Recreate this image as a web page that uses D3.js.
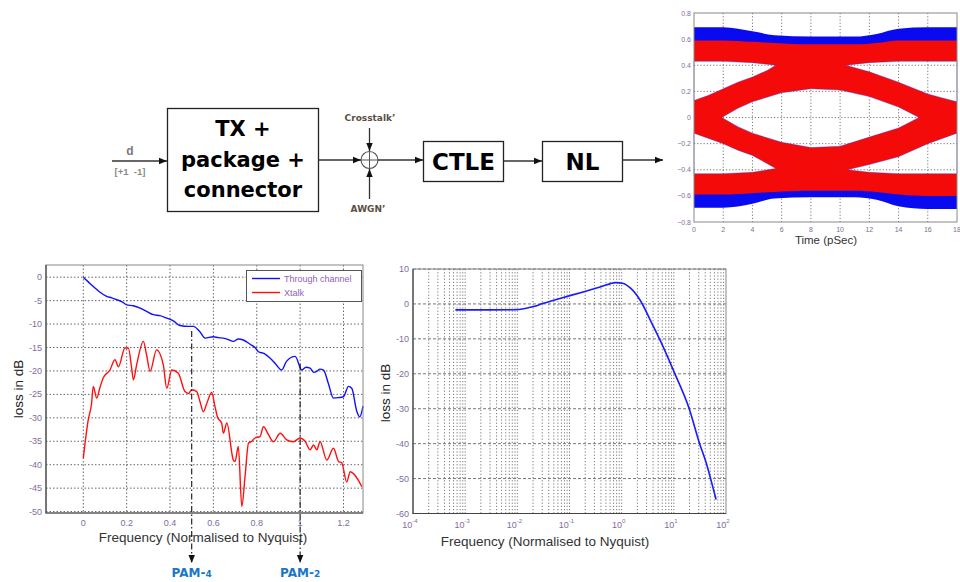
<!DOCTYPE html>
<html>
<head>
<meta charset="utf-8">
<script src="https://cdn.jsdelivr.net/npm/d3@7"></script>
<style>
  body { margin: 0; background: #fff; }
  svg { display: block; }
  text { font-family: "Liberation Sans", Arial, sans-serif; }
</style>
</head>
<body>
<svg id="chart" width="960" height="582"></svg>
<script>
// ---------- Through channel / crosstalk loss (linear frequency) ----------
const throughFreq = [0, 0.023, 0.046, 0.077, 0.108, 0.131, 0.154, 0.177, 0.2, 0.231, 0.262, 0.292, 0.323, 0.354, 0.385, 0.415, 0.446, 0.485, 0.508, 0.535, 0.562, 0.6, 0.623, 0.646, 0.669, 0.692, 0.715, 0.738, 0.769, 0.792, 0.808, 0.835, 0.862, 0.885, 0.915, 0.938, 0.977, 1.008, 1.027, 1.046, 1.062, 1.077, 1.092, 1.108, 1.131, 1.154, 1.177, 1.2, 1.223, 1.238, 1.262, 1.275, 1.29];
const throughDb   = [0, -1.0, -2.0, -3.2, -4.1, -4.4, -4.8, -5.2, -5.9, -6.1, -6.6, -7.3, -8.0, -8.2, -8.75, -9.3, -10.3, -10.5, -10.5, -11.5, -13.0, -12.7, -12.9, -13.0, -13.3, -13.7, -13.2, -13.4, -14.3, -15.0, -15.9, -16.3, -17.3, -18.4, -19.8, -17.9, -16.9, -19.8, -19.2, -19.4, -20.3, -20.1, -19.6, -19.8, -22.8, -25.8, -25.7, -25.5, -23.3, -23.7, -28.7, -29.8, -27.5];

const xtalkFreq = [0, 0.023, 0.038, 0.046, 0.062, 0.077, 0.092, 0.123, 0.146, 0.162, 0.192, 0.208, 0.223, 0.231, 0.246, 0.277, 0.292, 0.308, 0.338, 0.369, 0.385, 0.408, 0.438, 0.469, 0.485, 0.5, 0.523, 0.538, 0.554, 0.569, 0.592, 0.607, 0.62, 0.638, 0.646, 0.662, 0.692, 0.7, 0.715, 0.731, 0.746, 0.762, 0.777, 0.792, 0.815, 0.831, 0.854, 0.877, 0.908, 0.938, 0.969, 1.0, 1.023, 1.046, 1.062, 1.077, 1.092, 1.123, 1.154, 1.177, 1.192, 1.215, 1.231, 1.246, 1.285];
const xtalkDb   = [-38.6, -30.4, -27.0, -23.3, -25.8, -23.5, -21.5, -19.8, -17.6, -19.1, -15.1, -15.1, -19.4, -21.9, -18.7, -13.7, -16.6, -20.1, -15.5, -18.7, -23.7, -19.8, -20.5, -24.4, -24.8, -24.0, -24.4, -26.5, -28.7, -27.0, -24.6, -27.5, -30.0, -31.1, -33.3, -31.1, -39.0, -39.3, -36.1, -48.9, -42.5, -35.4, -35.0, -34.3, -34.0, -31.9, -33.6, -35.1, -33.3, -34.7, -35.1, -34.3, -35.0, -36.8, -35.8, -36.8, -35.1, -39.0, -36.5, -39.3, -39.6, -43.7, -41.5, -41.9, -44.7];

const lossXTicks = [0, 0.2, 0.4, 0.6, 0.8, 1, 1.2];
const lossYTicks = [0, -5, -10, -15, -20, -25, -30, -35, -40, -45, -50];
const legendLabels = ["Through channel", "Xtalk"];

// PAM Nyquist markers: frequency, where the dash-dot starts (dB), label and subscript
const pamFreq  = [0.5, 1.0];
const pamStart = [-11.5, -18.5];
const pamName  = ["PAM-", "PAM-"];
const pamLevel = ["4", "2"];

// ---------- CTLE response (log frequency) ----------
const ctleFreq = [6.5e-4, 3.2e-3, 8.7e-3, 0.0141, 0.0204, 0.0316, 0.063, 0.19, 0.4, 0.77, 1.03, 1.48, 2.34, 3.63, 5.62, 10, 19.5, 30.9, 41.7, 51.3, 64.6];
const ctleDb   = [-1.7, -1.7, -1.65, -1.3, -0.76, 0.2, 1.5, 3.5, 4.9, 6.1, 5.9, 4.5, 0.7, -5.0, -10.8, -19.3, -29.8, -39.8, -45.5, -50.3, -56.0];
const ctleYTicks = [10, 0, -10, -20, -30, -40, -50, -60];
const ctleDecades = [-4, -3, -2, -1, 0, 1, 2];

// ---------- Eye diagram envelopes (time in ps, amplitude) ----------
const eyeTime   = [0, 2, 4, 5.5, 8, 11, 12.5, 14, 16, 18];
const blueUpper = [0.69, 0.69, 0.66, 0.63, 0.62, 0.62, 0.64, 0.68, 0.69, 0.69];
const redUpper  = [0.59, 0.59, 0.58, 0.57, 0.56, 0.56, 0.57, 0.59, 0.59, 0.59];
const redLower  = [-0.59, -0.59, -0.58, -0.57, -0.56, -0.56, -0.57, -0.59, -0.6, -0.6];
const blueLower = [-0.69, -0.69, -0.66, -0.62, -0.61, -0.61, -0.63, -0.68, -0.7, -0.7];
const eyeOpening = [[1.9,0],[3,0.07],[4,0.12],[6,0.19],[8,0.22],[10,0.21],[12,0.16],[14,0.08],[15.4,0],[14,-0.08],[12,-0.15],[10,-0.22],[8,-0.23],[6,-0.19],[4,-0.12],[3,-0.07]];
const gapTopLeft     = [[0,0.43],[2,0.43],[4,0.42],[5.6,0.40],[5,0.36],[4,0.31],[3,0.27],[2,0.22],[1,0.17],[0,0.13]];
const gapTopRight    = [[10.4,0.40],[12,0.42],[14,0.43],[18,0.43],[18,0.12],[17,0.15],[16,0.18],[14,0.27],[12,0.35]];
const gapBottomLeft  = [[0,-0.43],[2,-0.43],[4,-0.42],[5.6,-0.39],[4,-0.29],[3,-0.25],[2,-0.2],[1,-0.16],[0,-0.12]];
const gapBottomRight = [[10.5,-0.40],[12,-0.42],[14,-0.43],[18,-0.43],[18,-0.12],[16,-0.2],[14,-0.3],[12,-0.36]];
const eyeXTicks = [0, 2, 4, 6, 8, 10, 12, 14, 16, 18];
const eyeYTicks = [0.8, 0.6, 0.4, 0.2, 0, -0.2, -0.4, -0.6, -0.8];

// ---------- Block diagram labels ----------
const txLines = ["TX +", "package +", "connector"];
const stageNames = ["CTLE", "NL"];

const svg = d3.select("#chart");
const tickColor = "#7f6c9c";
const gridColor = "#555";

// arrowhead marker
svg.append("defs").append("marker")
  .attr("id", "arrow").attr("viewBox", "0 0 10 10")
  .attr("refX", 10).attr("refY", 5)
  .attr("markerWidth", 8).attr("markerHeight", 8)
  .attr("markerUnits", "userSpaceOnUse").attr("orient", "auto")
  .append("path").attr("d", "M0,1L10,5L0,9Z").attr("fill", "#111");

// ================= Block diagram =================
const bd = svg.append("g");
function arrow(x1, y1, x2, y2) {
  bd.append("line").attr("x1", x1).attr("y1", y1).attr("x2", x2).attr("y2", y2)
    .attr("stroke", "#333").attr("stroke-width", 1.3).attr("marker-end", "url(#arrow)");
}
arrow(112, 161, 167, 161);
bd.append("text").attr("x", 130).attr("y", 155).attr("text-anchor", "middle")
  .attr("font-size", 12).attr("font-weight", "bold").attr("fill", "#7a7a7a").text("d");
bd.append("text").attr("x", 130).attr("y", 175).attr("text-anchor", "middle")
  .attr("font-size", 9.5).attr("font-weight", "bold").attr("fill", "#8a8a8a")
  .attr("xml:space", "preserve").text("[+1  -1]");

bd.append("rect").attr("x", 167.5).attr("y", 108.5).attr("width", 151).attr("height", 103)
  .attr("fill", "#fff").attr("stroke", "#222").attr("stroke-width", 1.3);
bd.selectAll("text.tx").data(txLines).join("text").attr("class", "tx")
  .attr("x", 243).attr("y", (d, i) => 136 + i * 30.5).attr("text-anchor", "middle")
  .style("font-family", "'DejaVu Sans', sans-serif").attr("font-weight", "bold")
  .attr("font-size", 21).attr("fill", "#000").text(d => d);

arrow(318.5, 160, 361, 160);
// summing junction
bd.append("circle").attr("cx", 369.5).attr("cy", 160).attr("r", 8.5)
  .attr("fill", "none").attr("stroke", "#555").attr("stroke-width", 1.1);
bd.append("line").attr("x1", 361).attr("x2", 378).attr("y1", 160).attr("y2", 160).attr("stroke", "#555");
bd.append("line").attr("x1", 369.5).attr("x2", 369.5).attr("y1", 151.5).attr("y2", 168.5).attr("stroke", "#555");
arrow(369.5, 128, 369.5, 151);
arrow(369.5, 199, 369.5, 169);
bd.append("text").attr("x", 370).attr("y", 121).attr("text-anchor", "middle")
  .style("font-family", "'DejaVu Sans', sans-serif").attr("font-weight", "bold")
  .attr("font-size", 9).attr("fill", "#5b4f45").text("Crosstalk’");
bd.append("text").attr("x", 368).attr("y", 212).attr("text-anchor", "middle")
  .style("font-family", "'DejaVu Sans', sans-serif").attr("font-weight", "bold")
  .attr("font-size", 9).attr("fill", "#5b4f45").text("AWGN’");

arrow(378, 160, 423, 160);
const stageX = [423.5, 542.5];
stageNames.forEach((name, i) => {
  bd.append("rect").attr("x", stageX[i]).attr("y", 141.5).attr("width", 80).attr("height", 40)
    .attr("fill", "#fff").attr("stroke", "#222").attr("stroke-width", 1.3);
  bd.append("text").attr("x", stageX[i] + 40).attr("y", 170).attr("text-anchor", "middle")
    .style("font-family", "'DejaVu Sans', sans-serif").attr("font-weight", "bold")
    .attr("font-size", 23).attr("fill", "#000").text(name);
});
arrow(503.5, 161, 542, 161);
arrow(622.5, 160, 663, 160);

// ================= Eye diagram =================
const xE = d3.scaleLinear().domain([0, 18]).range([694, 957]);
const yE = d3.scaleLinear().domain([-0.8, 0.8]).range([222, 13]);
const eye = svg.append("g");
eye.append("rect").attr("x", 694).attr("y", 13).attr("width", 263).attr("height", 209).attr("fill", "#fff");
eye.selectAll("line.vg").data(eyeXTicks.slice(1, -1)).join("line").attr("class", "vg")
  .attr("x1", d => xE(d)).attr("x2", d => xE(d)).attr("y1", 13).attr("y2", 222)
  .attr("stroke", gridColor).attr("stroke-width", 0.8).attr("stroke-dasharray", "1.2,2");
eye.selectAll("line.hg").data(eyeYTicks.slice(1, -1)).join("line").attr("class", "hg")
  .attr("y1", d => yE(d)).attr("y2", d => yE(d)).attr("x1", 694).attr("x2", 957)
  .attr("stroke", gridColor).attr("stroke-width", 0.8).attr("stroke-dasharray", "1.2,2");

const bandArea = (hi, lo) => d3.area().x((d, i) => xE(eyeTime[i])).y0((d, i) => yE(lo[i])).y1((d, i) => yE(hi[i]))
  .curve(d3.curveMonotoneX)(eyeTime);
const upperInner = redUpper.map(v => v - 0.04);
const lowerInner = redLower.map(v => v + 0.04);
eye.append("path").attr("d", bandArea(blueUpper, upperInner)).attr("fill", "#0a0af0");
eye.append("path").attr("d", bandArea(lowerInner, blueLower)).attr("fill", "#0a0af0");

const ptLine = d3.line().x(d => xE(d[0])).y(d => yE(d[1]));
const holes = [eyeOpening, gapTopLeft, gapTopRight, gapBottomLeft, gapBottomRight];
let redPath = bandArea(redUpper, redLower);
holes.forEach(h => { redPath += ptLine(h) + "Z"; });
eye.append("path").attr("d", redPath).attr("fill", "#f50a0a").attr("fill-rule", "evenodd");
holes.forEach(h => {
  eye.append("path").attr("d", ptLine(h) + "Z").attr("fill", "none")
    .attr("stroke", "#2a2ad8").attr("stroke-width", 0.8).attr("stroke-opacity", 0.45);
});

eye.append("rect").attr("x", 694).attr("y", 13).attr("width", 263).attr("height", 209)
  .attr("fill", "none").attr("stroke", "#888").attr("stroke-width", 1);
eye.selectAll("text.ey").data(eyeYTicks).join("text").attr("class", "ey")
  .attr("x", 691).attr("y", d => yE(d) + 2.5).attr("text-anchor", "end")
  .attr("font-size", 7).attr("fill", tickColor).text(d => d3.format("")(d));
eye.selectAll("text.ex").data(eyeXTicks).join("text").attr("class", "ex")
  .attr("x", d => xE(d)).attr("y", 232).attr("text-anchor", "middle")
  .attr("font-size", 7).attr("fill", tickColor).text(d => d);
eye.append("text").attr("x", 826).attr("y", 244).attr("text-anchor", "middle")
  .attr("font-size", 11.5).attr("fill", "#333").text("Time (pSec)");

// ================= Loss vs frequency (linear) =================
const xL = d3.scaleLinear().domain([-0.172, 1.29]).range([46, 363]);
const yL = d3.scaleLinear().domain([-50.3, 2.6]).range([513, 265]);
const gl = svg.append("g");
gl.selectAll("line.vg").data(lossXTicks).join("line").attr("class", "vg")
  .attr("x1", d => xL(d)).attr("x2", d => xL(d)).attr("y1", 265).attr("y2", 513)
  .attr("stroke", gridColor).attr("stroke-width", 0.9).attr("stroke-dasharray", "1.5,2");
gl.selectAll("line.hg").data(lossYTicks).join("line").attr("class", "hg")
  .attr("y1", d => yL(d)).attr("y2", d => yL(d)).attr("x1", 46).attr("x2", 363)
  .attr("stroke", gridColor).attr("stroke-width", 0.9).attr("stroke-dasharray", "1.5,2");

const lineL = d3.line().x(d => xL(d[0])).y(d => yL(d[1])).curve(d3.curveMonotoneX);
gl.append("path").attr("d", lineL(xtalkFreq.map((f, i) => [f, xtalkDb[i]])))
  .attr("fill", "none").attr("stroke", "#ff1010").attr("stroke-width", 1.4);
gl.append("path").attr("d", lineL(throughFreq.map((f, i) => [f, throughDb[i]])))
  .attr("fill", "none").attr("stroke", "#1010ff").attr("stroke-width", 1.4);

gl.append("rect").attr("x", 46).attr("y", 265).attr("width", 317).attr("height", 248)
  .attr("fill", "none").attr("stroke", "#888").attr("stroke-width", 1);
gl.append("path").attr("d", "M46,265V513H363").attr("fill", "none").attr("stroke", "#444").attr("stroke-width", 1.2);

gl.selectAll("text.ly").data(lossYTicks).join("text").attr("class", "ly")
  .attr("x", 42).attr("y", d => yL(d) + 3).attr("text-anchor", "end")
  .attr("font-size", 9).attr("fill", tickColor).text(d => d);
gl.selectAll("text.lx").data(lossXTicks).join("text").attr("class", "lx")
  .attr("x", d => xL(d)).attr("y", 526).attr("text-anchor", "middle")
  .attr("font-size", 9).attr("fill", tickColor).text(d => d);
gl.append("text").attr("transform", "translate(23,389) rotate(-90)").attr("text-anchor", "middle")
  .attr("font-size", 13.5).attr("fill", "#222").text("loss in dB");
gl.append("text").attr("x", 203).attr("y", 542).attr("text-anchor", "middle")
  .attr("font-size", 13.5).attr("fill", "#333").text("Frequency (Normalised to Nyquist)");

// legend
gl.append("rect").attr("x", 246.5).attr("y", 270.5).attr("width", 115).attr("height", 31)
  .attr("fill", "#fff").attr("stroke", "#555").attr("stroke-width", 1);
const legendColors = ["#1010ff", "#ff1010"];
legendLabels.forEach((lab, i) => {
  const ly = 278.5 + i * 14;
  gl.append("line").attr("x1", 252).attr("x2", 280).attr("y1", ly).attr("y2", ly)
    .attr("stroke", legendColors[i]).attr("stroke-width", 1.4);
  gl.append("text").attr("x", 284).attr("y", ly + 3).attr("font-size", 9)
    .attr("fill", "#8e62b8").text(lab);
});

// PAM Nyquist markers
pamFreq.forEach((f, i) => {
  gl.append("line").attr("x1", xL(f)).attr("x2", xL(f)).attr("y1", yL(pamStart[i])).attr("y2", 563)
    .attr("stroke", "#111").attr("stroke-width", 1.1).attr("stroke-dasharray", "6,2.5,1.5,2.5")
    .attr("marker-end", "url(#arrow)");
  const t = gl.append("text").attr("x", xL(f)).attr("y", 577).attr("text-anchor", "middle")
    .style("font-family", "'DejaVu Sans', sans-serif").attr("font-weight", "bold")
    .attr("fill", "#1b76c6").attr("font-size", 12);
  t.append("tspan").text(pamName[i]);
  t.append("tspan").attr("font-size", 9).text(pamLevel[i]);
});

// ================= CTLE response (log frequency) =================
const xR = d3.scaleLog().domain([1e-4, 1e2]).range([413, 726]);
const yR = d3.scaleLinear().domain([-60, 10]).range([513.5, 269]);
const gr = svg.append("g");
const minorTicks = [];
ctleDecades.slice(0, -1).forEach(e => { for (let k = 1; k <= 9; k++) minorTicks.push(k * Math.pow(10, e)); });
gr.selectAll("line.vg").data(minorTicks.filter(v => v > 1.0001e-4)).join("line").attr("class", "vg")
  .attr("x1", d => xR(d)).attr("x2", d => xR(d)).attr("y1", 269).attr("y2", 513.5)
  .attr("stroke", gridColor).attr("stroke-width", 0.8).attr("stroke-dasharray", "1.2,2");
gr.selectAll("line.hg").data(ctleYTicks).join("line").attr("class", "hg")
  .attr("y1", d => yR(d)).attr("y2", d => yR(d)).attr("x1", 413).attr("x2", 726)
  .attr("stroke", gridColor).attr("stroke-width", 0.8).attr("stroke-dasharray", "3,2");

const lineR = d3.line().x(d => xR(d[0])).y(d => yR(d[1])).curve(d3.curveMonotoneX);
gr.append("path").attr("d", lineR(ctleFreq.map((f, i) => [f, ctleDb[i]])))
  .attr("fill", "none").attr("stroke", "#1a1aff").attr("stroke-width", 1.6);

gr.append("rect").attr("x", 413).attr("y", 269).attr("width", 313).attr("height", 244.5)
  .attr("fill", "none").attr("stroke", "#888").attr("stroke-width", 1);
gr.append("path").attr("d", "M413,269V513.5H726").attr("fill", "none").attr("stroke", "#444").attr("stroke-width", 1.2);

gr.selectAll("text.ry").data(ctleYTicks).join("text").attr("class", "ry")
  .attr("x", 409).attr("y", d => yR(d) + 3).attr("text-anchor", "end")
  .attr("font-size", 9).attr("fill", tickColor).text(d => d);
ctleDecades.forEach(e => {
  const t = gr.append("text").attr("x", xR(Math.pow(10, e)) - 3).attr("y", 528)
    .attr("text-anchor", "middle").attr("font-size", 9).attr("fill", tickColor);
  t.append("tspan").text("10");
  t.append("tspan").attr("dy", -5).attr("font-size", 6).text(e);
});
gr.append("text").attr("transform", "translate(390,393) rotate(-90)").attr("text-anchor", "middle")
  .attr("font-size", 13.5).attr("fill", "#222").text("loss in dB");
gr.append("text").attr("x", 545).attr("y", 546).attr("text-anchor", "middle")
  .attr("font-size", 13.5).attr("fill", "#333").text("Frequency (Normalised to Nyquist)");
</script>
</body>
</html>
